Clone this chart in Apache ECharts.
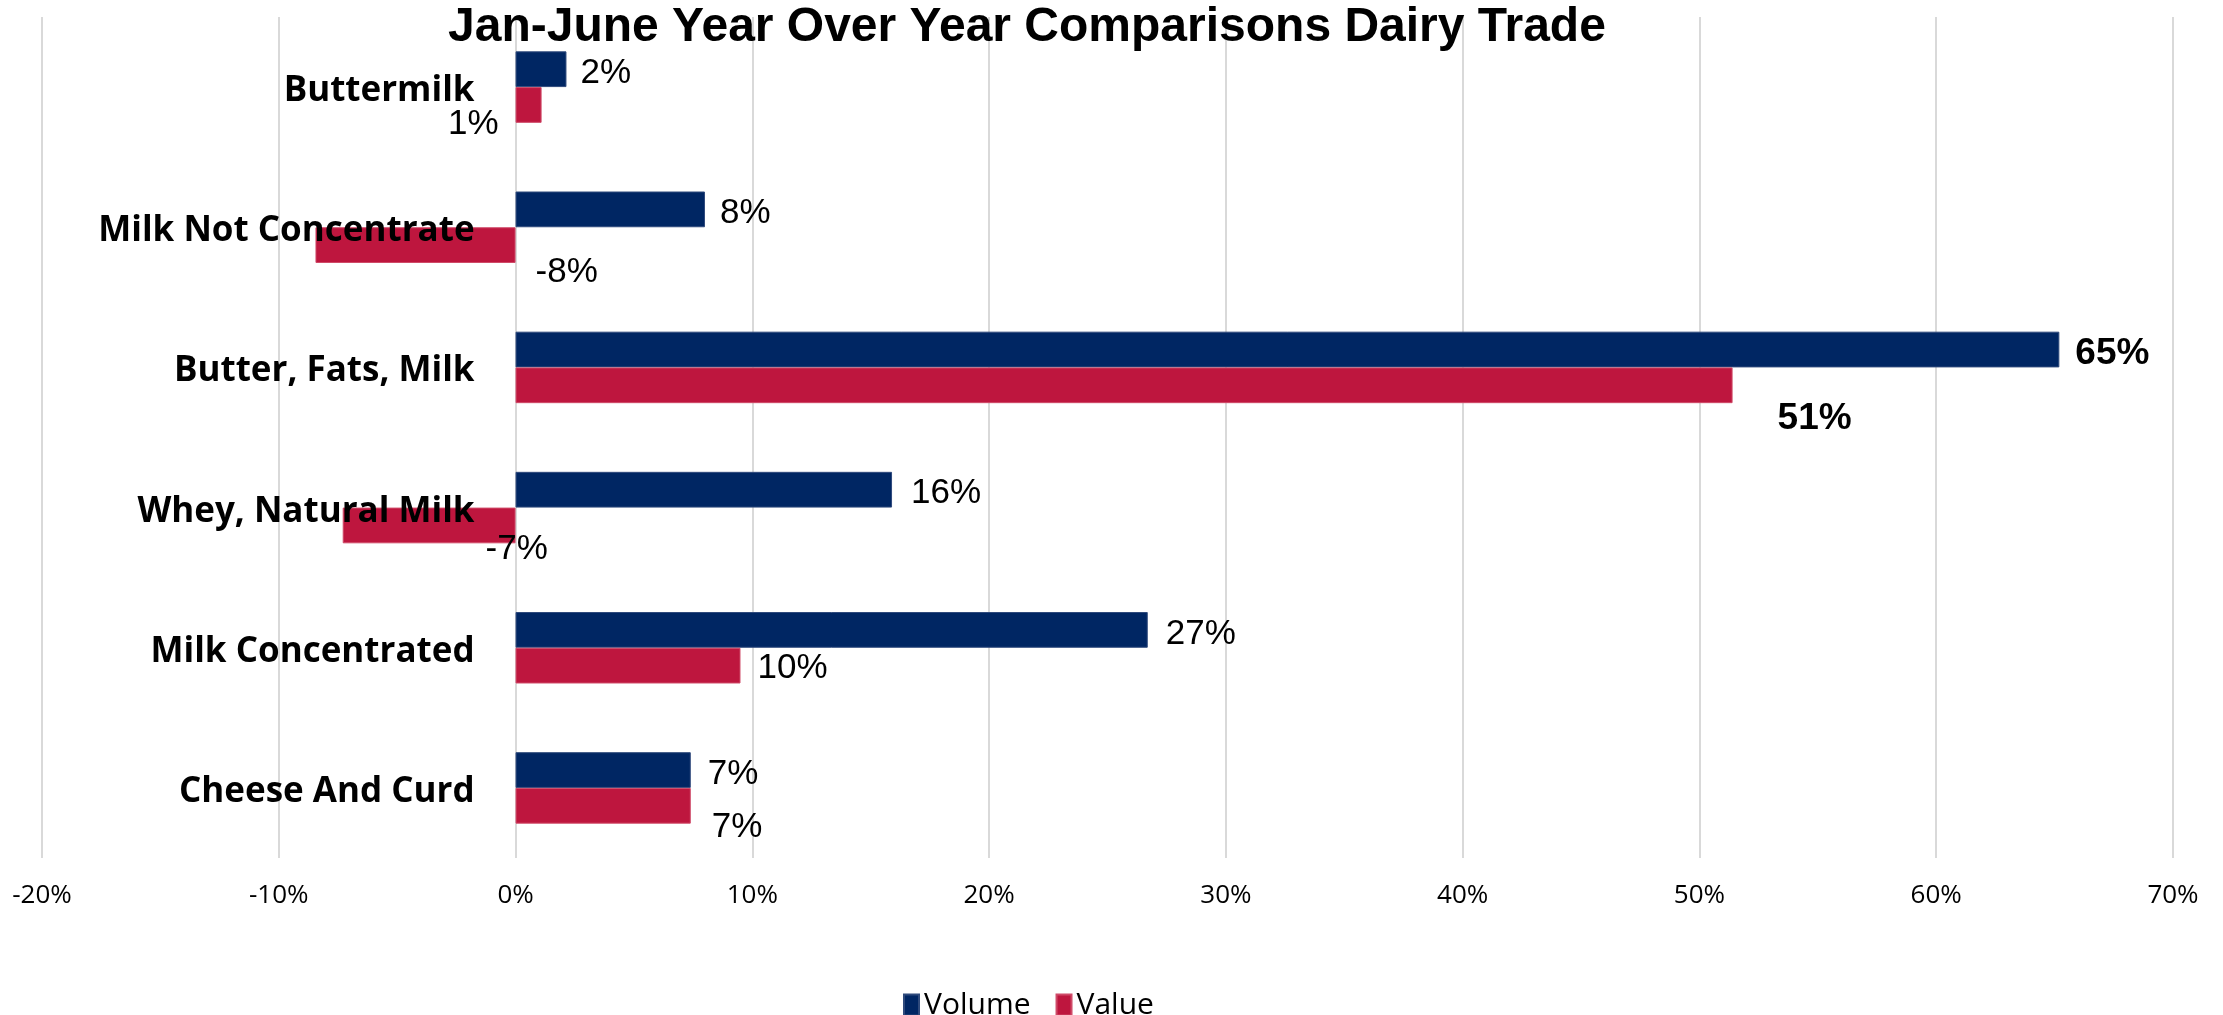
<!DOCTYPE html>
<html>
<head>
<meta charset="utf-8">
<script src="https://cdn.jsdelivr.net/npm/echarts@6/dist/echarts.min.js"></script>
<style>
html,body{margin:0;padding:0;background:#fff;}
#chart{width:2223px;height:1015px;}
</style>
</head>
<body>
<div id="chart"></div>
<script>
const titleText = 'Jan-June Year Over Year Comparisons Dairy Trade';
const categories = ['Buttermilk', 'Milk Not Concentrate', 'Butter, Fats, Milk', 'Whey, Natural Milk', 'Milk Concentrated', 'Cheese And Curd'];
const volumeValues = [2.15, 8.0, 65.2, 15.9, 26.7, 7.4];
const valueValues = [1.1, -8.45, 51.4, -7.3, 9.5, 7.4];
const seriesNames = ['Volume', 'Value'];
const xTicks = { min: -20, max: 70, interval: 10 };

// per-point label placement (styling only)
const volumeLabelStyle = [
  { position: 'right', distance: 14, offset: [0, 4] },
  { position: 'right', distance: 15, offset: [0, 4] },
  { position: 'right', distance: 16, offset: [0, 4], fontWeight: 'bold', fontSize: 37 },
  { position: 'right', distance: 19, offset: [0, 4] },
  { position: 'right', distance: 18, offset: [0, 4] },
  { position: 'right', distance: 17, offset: [0, 4] }
];
const valueLabelStyle = [
  { position: 'left', distance: 17, offset: [0, 19] },
  { position: 'right', distance: 20, offset: [0, 27] },
  { position: 'right', distance: 45, offset: [0, 34], fontWeight: 'bold', fontSize: 37 },
  { position: 'right', distance: 0, offset: [-30, 24] },
  { position: 'right', distance: 17, offset: [0, 3] },
  { position: 'right', distance: 21, offset: [0, 22] }
];

function buildData(vals, styles) {
  return vals.map((v, i) => ({ value: v, label: Object.assign({}, styles[i]) }));
}

const GRID_LEFT = 42;
const chart = echarts.init(document.getElementById('chart'), null, { renderer: 'canvas' });
const labelBase = {
  show: true,
  color: '#000',
  fontFamily: 'Liberation Sans, Arial, sans-serif',
  fontSize: 35,
  formatter: p => Math.round(p.value) + '%'
};
chart.setOption({
  animation: false,
  backgroundColor: '#fff',
  title: {
    text: titleText,
    left: 448,
    top: 4,
    padding: 0,
    textStyle: { fontFamily: 'Liberation Sans, Arial, sans-serif', fontWeight: 'bold', fontSize: 48, color: '#000' }
  },
  legend: {
    data: seriesNames,
    left: 903,
    top: 990,
    padding: 0,
    icon: 'rect',
    itemWidth: 15,
    itemHeight: 21,
    itemGap: 25,
    textStyle: { fontFamily: 'Open Sans, sans-serif', fontSize: 30, color: '#000', padding: [0, 0, 0, 0] }
  },
  grid: { left: GRID_LEFT, right: 50, top: 17, bottom: 157, containLabel: false, outerBoundsMode: 'none' },
  xAxis: {
    type: 'value',
    min: xTicks.min, max: xTicks.max, interval: xTicks.interval,
    axisLine: { show: false },
    axisTick: { show: false },
    splitLine: { show: true, lineStyle: { color: '#d9d9d9', width: 2 } },
    axisLabel: { formatter: '{value}%', fontFamily: 'Open Sans, sans-serif', fontSize: 26, color: '#000', margin: 25 }
  },
  yAxis: {
    type: 'category',
    data: categories,
    inverse: true,
    z: 10,
    axisLine: { show: false },
    axisTick: { show: false },
    splitLine: { show: false },
    axisLabel: { fontFamily: 'Open Sans, sans-serif', fontWeight: 'bold', fontSize: 35, color: '#000', margin: 41, verticalAlign: 'top', lineHeight: 8 }
  },
  series: [
    {
      name: seriesNames[0], type: 'bar',
      data: buildData(volumeValues, volumeLabelStyle),
      itemStyle: { color: '#002663', borderColor: '#2f4a7c', borderWidth: 1 },
      barGap: '0%', barCategoryGap: '49%',
      label: labelBase
    },
    {
      name: seriesNames[1], type: 'bar',
      data: buildData(valueValues, valueLabelStyle),
      itemStyle: { color: '#BE163E', borderColor: '#cf4a68', borderWidth: 1 },
      barGap: '0%', barCategoryGap: '49%',
      label: labelBase
    }
  ]
});
// move the category axis to the value axis's zero, using the library's own scale
const zeroX = chart.convertToPixel({ xAxisIndex: 0 }, 0);
chart.setOption({ yAxis: { offset: -(zeroX - GRID_LEFT) } });
</script>
</body>
</html>
